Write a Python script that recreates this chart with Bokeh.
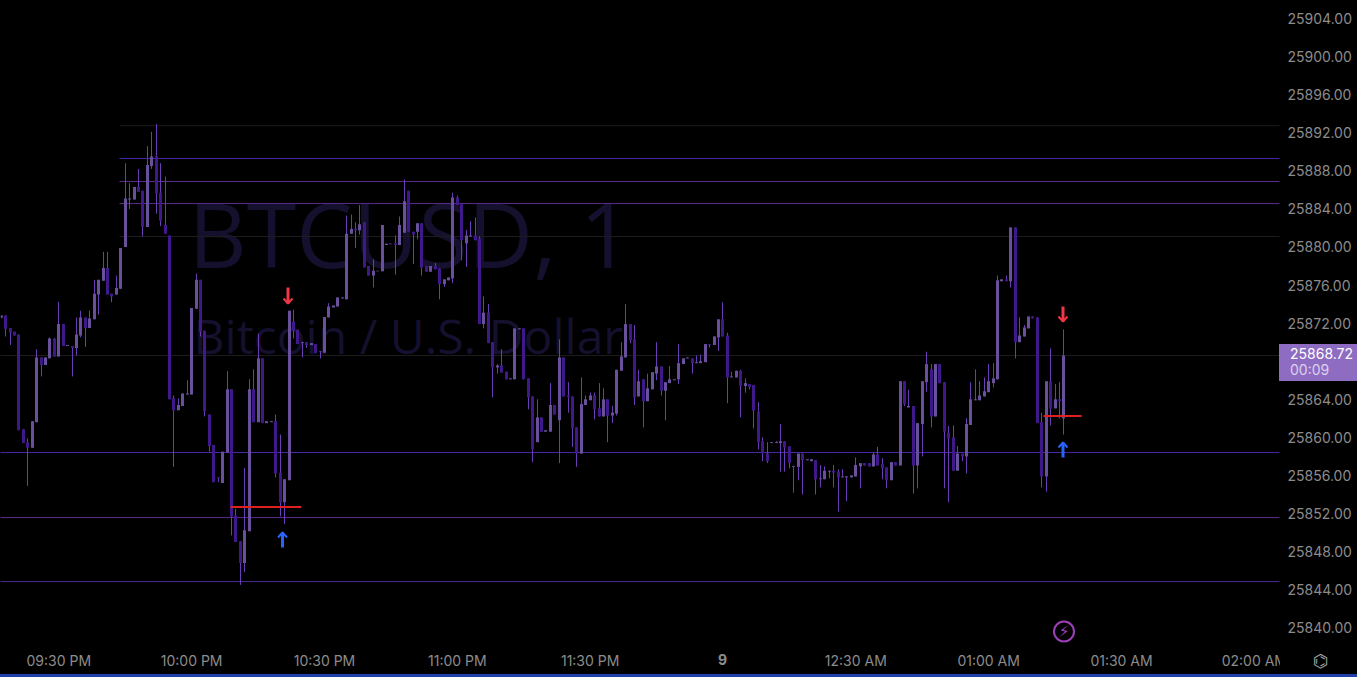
from bokeh.plotting import figure
from bokeh.layouts import column
from bokeh.embed import file_html
from bokeh.resources import INLINE
from bokeh.models import FixedTicker, NumeralTickFormatter, Label, ColumnDataSource, Div
from bokeh.core.properties import value
import numpy as np

# one-minute bars; minute index 0 is 09:30 PM
first_minute = -13
opens = [
25872.6,25872.8,25871.5,25871.1,25870.8,25860.85,25859.5,25858.9,25861.6,25868.4,25867.6,25868.3,25870.4,
25868.5,25871.9,25869.6,25869.6,25869.4,25870.7,25872.6,25871.5,25872.4,25875.0,
25876.45,25877.8,25875.1,25875.0,25875.6,25880.0,25885.0,25885.0,25886.3,25885.9,
25882.1,25888.5,25889.5,25885.7,25882.3,25881.2,25864.1,25862.85,25863.3,25864.5,
25864.5,25873.5,25876.55,25871.2,25862.4,25859.2,25855.8,25855.2,25858.4,25865.05,
25851.8,25849.1,25846.8,25850.15,25865.05,25861.6,25868.3,25861.5,25861.6,25861.7,
25856.3,25853.2,25855.5,25872.15,25871.3,25869.9,25870.0,25869.7,25869.8,25869.0,
25868.9,25872.6,25873.65,25873.75,25874.6,25874.5,25881.4,25881.95,25881.75,25882.6,
25878.0,25877.0,25877.45,25877.45,25880.2,25880.3,25880.4,25880.2,25881.5,25885.9,
25881.6,25881.6,25882.5,25878.0,25877.4,25878.0,25877.75,25876.1,25876.5,25876.7,
25885.2,25884.5,25880.4,25881.1,25881.2,25880.9,25871.9,25873.1,25870.0,25867.35,
25867.55,25866.9,25866.1,25866.1,25871.35,25871.45,25866.2,25864.3,25859.5,25862.1,
25860.6,25860.6,25863.4,25861.8,25868.4,25864.4,25864.3,25861.05,25858.3,25863.4,
25863.9,25864.4,25863.05,25862.2,25864.0,25862.3,25862.5,25867.0,25868.4,25871.9,
25870.3,25864.3,25866.1,25863.8,25865.05,25866.7,25867.45,25864.9,25865.7,25866.0,
25866.1,25867.7,25868.3,25868.3,25867.8,25867.8,25867.9,25869.8,25869.7,25870.5,
25872.4,25870.7,25866.3,25866.3,25867.0,25865.4,25865.6,25865.5,25862.7,25859.6,
25858.3,25859.4,25859.4,25859.4,25859.6,25859.05,25856.9,25856.9,25858.3,25857.6,
25857.5,25857.6,25855.6,25855.6,25856.4,25856.5,25856.4,25855.8,25855.8,25855.8,
25855.9,25856.95,25857.3,25857.3,25856.95,25858.2,25857.2,25856.85,25855.5,25857.4,
25857.05,25865.9,25863.15,25863.3,25857.05,25861.4,25865.8,25867.15,25862.2,25867.7,
25865.8,25860.5,25860.0,25856.5,25858.3,25858.0,25861.3,25863.9,25863.9,25864.3,
25864.75,25865.7,25866.1,25876.4,25876.6,25876.4,25882.05,25870.0,25870.6,25871.45,
25872.7,25872.6,25861.6,25855.9,25865.9,25863.05,25864.0,25862.0]
highs = [
25872.8,25872.8,25871.5,25871.1,25870.8,25860.85,25859.9,25861.7,25869.25,25868.4,25868.4,25870.5,25870.4,
25874.25,25871.9,25869.7,25869.6,25872.6,25873.3,25872.6,25873.3,25876.55,25876.55,
25879.5,25879.5,25875.1,25877.0,25879.9,25888.8,25886.7,25886.3,25888.2,25885.9,
25890.6,25892.1,25892.9,25888.8,25887.4,25881.2,25864.4,25864.1,25864.6,25866.0,
25873.6,25877.2,25876.55,25871.2,25862.4,25859.2,25855.8,25858.5,25866.95,25865.05,
25852.5,25849.1,25856.8,25866.1,25867.15,25870.9,25868.3,25861.7,25861.7,25862.4,
25860.3,25855.6,25873.3,25873.4,25871.3,25870.0,25870.0,25869.9,25869.8,25869.05,
25872.64,25874.1,25873.85,25874.7,25874.7,25883.3,25883.4,25882.6,25884.4,25882.6,
25878.0,25878.7,25877.5,25882.3,25880.35,25880.35,25881.2,25883.2,25887.1,25885.9,
25881.6,25882.5,25882.5,25878.0,25878.0,25878.3,25877.75,25876.6,25876.8,25885.7,
25885.4,25884.5,25881.8,25882.7,25883.1,25881.1,25874.8,25874.0,25870.0,25867.7,
25869.25,25866.9,25866.2,25871.45,25871.45,25871.45,25866.2,25864.3,25864.0,25862.1,
25860.75,25865.7,25863.4,25870.3,25868.4,25865.8,25864.3,25861.05,25866.3,25864.4,
25864.7,25864.7,25865.7,25865.15,25864.0,25863.3,25867.1,25870.0,25874.0,25871.9,
25871.8,25867.1,25866.1,25866.7,25866.85,25870.0,25867.45,25865.8,25867.5,25866.1,
25869.8,25868.3,25868.4,25868.3,25868.6,25868.7,25869.8,25869.8,25870.6,25872.4,
25874.2,25871.0,25866.9,25867.0,25867.1,25866.2,25865.6,25865.5,25863.7,25860.0,
25859.5,25859.5,25859.6,25861.4,25859.6,25859.05,25857.0,25858.3,25858.3,25857.7,
25857.7,25857.6,25857.1,25856.95,25856.5,25857.1,25856.65,25856.65,25855.9,25856.0,
25857.9,25857.3,25857.3,25857.3,25858.4,25859.0,25857.8,25856.85,25857.4,25857.4,
25865.9,25865.9,25865.0,25863.3,25861.5,25865.9,25869.0,25867.7,25867.7,25867.7,
25865.8,25861.2,25861.25,25859.1,25858.3,25862.0,25865.8,25867.15,25865.9,25866.3,
25867.7,25867.8,25877.0,25876.6,25877.0,25882.05,25882.05,25872.6,25871.8,25872.7,
25872.7,25872.6,25862.6,25865.9,25869.35,25865.6,25865.8,25871.35]
lows = [
25872.5,25870.6,25869.7,25870.7,25860.75,25859.4,25854.9,25858.9,25861.6,25866.4,25867.6,25868.3,25868.5,
25868.5,25869.6,25869.6,25866.4,25868.6,25870.5,25869.5,25871.5,25872.4,25872.9,
25876.45,25875.0,25874.2,25875.0,25875.6,25880.0,25884.0,25885.0,25885.8,25881.1,
25882.1,25888.2,25883.5,25882.2,25881.4,25864.0,25856.9,25862.85,25863.3,25864.5,
25864.5,25873.5,25870.6,25862.2,25858.5,25855.3,25855.3,25855.2,25858.4,25849.7,
25849.0,25844.5,25845.85,25850.15,25861.6,25861.6,25861.5,25861.5,25861.6,25855.8,
25851.7,25850.9,25855.5,25870.4,25869.8,25868.4,25869.4,25869.7,25868.85,25868.3,
25868.9,25872.6,25873.65,25873.75,25874.6,25874.5,25881.4,25879.9,25881.3,25877.85,
25877.0,25875.75,25877.45,25877.45,25880.2,25880.3,25877.1,25880.2,25881.5,25881.6,
25878.2,25880.8,25877.0,25877.4,25877.4,25877.65,25874.5,25875.8,25876.5,25876.2,
25884.4,25878.6,25877.9,25881.1,25880.7,25871.9,25871.45,25869.9,25864.2,25866.7,
25866.8,25866.1,25866.1,25866.1,25871.35,25866.1,25862.95,25857.4,25859.5,25860.6,
25860.6,25860.6,25862.4,25857.3,25864.3,25862.6,25859.0,25856.9,25858.3,25863.4,
25863.9,25861.9,25862.2,25862.2,25859.5,25861.5,25862.3,25867.0,25868.4,25869.9,
25863.4,25864.3,25861.05,25863.8,25865.05,25866.0,25864.4,25861.8,25865.7,25866.0,
25865.6,25867.7,25868.3,25866.7,25867.8,25867.8,25867.9,25869.45,25869.7,25869.1,
25870.6,25863.6,25866.3,25866.3,25862.1,25864.7,25865.05,25860.95,25858.75,25857.5,
25857.3,25859.4,25859.4,25856.4,25856.4,25856.75,25854.2,25855.5,25854.0,25857.6,
25857.5,25854.0,25854.75,25855.6,25855.7,25854.75,25852.2,25855.8,25853.3,25855.8,
25855.9,25854.65,25857.05,25856.95,25856.95,25857.05,25855.6,25854.65,25855.5,25857.05,
25857.05,25863.3,25863.15,25854.1,25854.65,25858.0,25864.8,25861.05,25862.2,25865.7,
25854.65,25853.2,25856.5,25856.5,25857.5,25856.2,25861.3,25863.9,25863.9,25864.3,
25864.75,25865.25,25866.1,25876.4,25876.4,25875.75,25868.3,25870.0,25870.6,25871.45,
25872.5,25861.5,25854.75,25854.3,25861.25,25863.05,25862.0,25860.3]
closes = [
25872.8,25871.4,25871.0,25870.7,25860.75,25859.4,25858.9,25861.7,25868.4,25867.6,25868.4,25870.4,25868.5,
25871.9,25869.6,25869.7,25869.4,25870.8,25872.6,25871.5,25872.5,25875.1,25876.55,
25877.8,25875.0,25874.8,25875.7,25879.9,25885.1,25885.1,25886.3,25885.8,25882.1,
25888.6,25889.5,25885.6,25882.75,25881.4,25864.0,25862.85,25863.4,25864.6,25864.6,
25873.6,25876.55,25871.1,25862.75,25859.1,25855.3,25855.7,25858.5,25865.05,25851.7,
25849.0,25846.8,25850.25,25865.05,25861.6,25868.3,25861.5,25861.7,25861.7,25856.2,
25853.2,25855.6,25873.3,25871.2,25869.8,25870.0,25869.7,25869.9,25868.85,25869.05,
25872.64,25873.75,25873.85,25874.7,25874.7,25881.4,25881.9,25881.75,25882.4,25877.85,
25877.0,25877.5,25877.5,25882.3,25880.35,25880.35,25880.2,25882.3,25884.8,25881.6,
25881.3,25882.5,25877.85,25877.4,25878.0,25877.65,25876.1,25876.6,25876.8,25885.2,
25884.4,25880.7,25881.2,25881.2,25880.7,25871.9,25873.1,25869.9,25867.35,25867.55,
25866.8,25866.1,25866.2,25871.45,25871.45,25866.1,25864.2,25858.75,25862.1,25860.6,
25860.75,25863.4,25862.4,25868.4,25864.3,25864.2,25860.95,25858.3,25863.5,25864.0,
25864.4,25862.95,25862.2,25864.0,25862.3,25862.6,25867.1,25868.5,25871.9,25870.2,
25864.2,25865.9,25863.8,25865.15,25866.85,25867.45,25864.9,25865.8,25866.1,25866.1,
25867.8,25868.3,25868.4,25867.8,25867.9,25868.0,25869.8,25869.7,25870.6,25872.4,
25870.6,25866.3,25866.4,25867.0,25865.4,25865.7,25865.3,25862.8,25859.5,25858.3,
25857.5,25859.5,25859.5,25859.6,25858.95,25857.3,25857.0,25858.3,25857.6,25857.7,
25857.7,25855.6,25855.7,25856.5,25856.5,25856.3,25855.8,25855.9,25855.9,25856.0,
25857.1,25857.3,25857.05,25856.95,25858.2,25857.05,25856.75,25855.5,25857.4,25857.05,
25865.9,25863.5,25863.3,25857.05,25861.5,25865.9,25867.7,25862.2,25867.7,25865.7,
25860.6,25859.9,25856.5,25858.3,25858.0,25861.4,25864.0,25864.0,25864.4,25864.85,
25865.9,25866.2,25876.5,25876.6,25876.4,25882.05,25870.0,25870.7,25871.55,25872.7,
25872.5,25861.5,25855.9,25865.9,25863.05,25864.0,25863.8,25868.6]

price_ticks = [25840,25844,25848,25852,25856,25860,25864,25872,25876,25880,25884,25888,25892,25896,25900,25904]
time_ticks = [0,30,60,90,120,150,180,210,240,270]
time_labels = ["09:30 PM","10:00 PM","10:30 PM","11:00 PM","11:30 PM"," ","12:30 AM","01:00 AM","01:30 AM","02:00 AM"]

# horizontal levels: price, first minute, colour
level_prices = [25892.74,25889.29,25886.88,25884.56,25881.1,25868.6,25858.41,25851.58,25844.86]
level_starts = [13.7,13.7,13.7,13.7,13.7,-14,-14,-14,-14]
level_colors = ["#1c1c1c","#4a28a8","#5c2b8c","#5c2b8c","#1c1c1c","#1c1c1c","#4a28a8","#5c2b8c","#4a2a90"]

# signals
signal_price = [25852.69,25862.25]
signal_from = [38.8,222.4]
signal_to = [54.8,231.0]

UP, DOWN, WICK = "#68509a", "#3f188a", "#6a3db4"
BAR, X0, PPX = 4.428, 58.3, 0.10504
def X(px): return (px - X0) / BAR
def Y(py): return 25904 - (py - 18) * PPX

main = figure(width=1357, height=677, output_backend="svg", toolbar_location=None,
              x_range=(X(0), X(1279)), y_range=(Y(647), Y(0)), y_axis_location="right",
              background_fill_color="black", border_fill_color=None, outline_line_color=None,
              min_border_left=0, min_border_top=0, min_border_right=78, min_border_bottom=30,
              styles={"background": "black"})
main.grid.visible = False
for ax in (main.xaxis[0], main.yaxis[0]):
    ax.axis_line_color = None
    ax.major_tick_line_color = None
    ax.minor_tick_line_color = None
    ax.major_label_text_color = "#8c8c8c"
    ax.major_label_text_font = "Inter"
    ax.major_label_text_font_size = "14px"
main.yaxis[0].ticker = FixedTicker(ticks=price_ticks)
main.yaxis[0].formatter = NumeralTickFormatter(format="0.00")
main.yaxis[0].major_tick_out = 6
main.yaxis[0].major_label_standoff = 2
main.xaxis[0].ticker = FixedTicker(ticks=time_ticks)
main.xaxis[0].major_label_overrides = dict(zip(time_ticks, time_labels))
main.xaxis[0].major_tick_out = 4
main.xaxis[0].major_label_standoff = 0

# watermark
main.add_layout(Label(x=X(188), y=Y(232), text="BTCUSD, 1", text_font="Open Sans", text_font_size="90px",
                      text_color="#14102e", text_baseline="middle", text_align="left", level="underlay"))
main.add_layout(Label(x=X(193), y=Y(335), text="Bitcoin / U.S. Dollar", text_font="Open Sans", text_font_size="48px",
                      text_color="#14102e", text_baseline="middle", text_align="left", level="underlay"))

# levels
x1 = [X(1300)] * len(level_prices)
main.segment(x0=level_starts, x1=x1, y0=level_prices, y1=level_prices, line_color=level_colors, line_width=1)

t = np.arange(len(opens)) + first_minute
o, h, l, c = map(np.array, (opens, highs, lows, closes))
# bars sit on whole device pixels, as the chart they copy does
t_px = X(np.round(X0 + BAR * t))
src = ColumnDataSource(dict(t=t_px, o=o, h=h, l=l, c=c, col=[UP if a >= b else DOWN for a, b in zip(c, o)]))
main.segment(x0="t", x1="t", y0="l", y1="h", source=src, line_color=WICK, line_width=1)
main.vbar(x="t", top="o", bottom="c", width=3 / BAR, source=src, fill_color="col", line_color=None)

main.segment(x0=signal_from, x1=signal_to, y0=signal_price, y1=signal_price, line_color="#e0201e", line_width=2)

# arrows
def arrow(col, px, tail, tip):
    d = 5 if tip > tail else -5
    main.segment(x0=[X(px)], x1=[X(px)], y0=[Y(tail)], y1=[Y(tip)], line_color=col, line_width=3)
    main.multi_line(xs=[[X(px - 4.5), X(px), X(px + 4.5)]], ys=[[Y(tip - d), Y(tip), Y(tip - d)]], line_color=col, line_width=2)
arrow("#f23645", 287.5, 287, 303)
arrow("#2962ff", 282, 547, 532)
arrow("#f23645", 1062.5, 306, 321)
arrow("#2962ff", 1062.5, 457, 442)

# badge
main.scatter(x=[X(1063.5)], y=[Y(631)], size=20, marker="circle", fill_color=None, line_color="#9b3fb5", line_width=2)
main.text(x=[X(1063.5)], y=[Y(631)], text=["\u26a1"], text_font=value("DejaVu Sans"), text_font_size="16px",
          text_color="#9b3fb5", text_align="center", text_baseline="middle")

# small HTML panels laid over the axis areas, where the plot clips its annotations
def panel(left, top, w, h, bg, html="", **css):
    st = {"position": "absolute", "left": f"{left}px", "top": f"{top}px", "background": bg,
          "overflow": "hidden", "font-family": "Inter", "font-size": "14px", "color": "#8c8c8c",
          "line-height": "16px"}
    st.update(css)
    return Div(text=html, width=w, height=h, margin=0, styles=st)

price_box = panel(1279, 344, 78, 37, "#8e6cc2",
                  '<div style="padding:2px 0 0 11px;color:#fff">25868.72<br><span style="color:#dcd0ee">00:09</span></div>')
gear = panel(1280, 648, 77, 26, "black",
             '<div style="padding:2px 0 0 33px;font-family:\'DejaVu Sans\';color:#a8a8a8;font-size:18px;line-height:22px">\u232c</div>')
nine = panel(718, 652, 12, 18, "black", '<div style="font-weight:700">9</div>')
band = panel(0, 674, 1357, 3, "#1e40a8")

p = column(main, price_box, gear, nine, band, width=1357, height=677, styles={"position": "relative", "background": "black"})

open("out.html", "w").write(file_html(p, INLINE))
